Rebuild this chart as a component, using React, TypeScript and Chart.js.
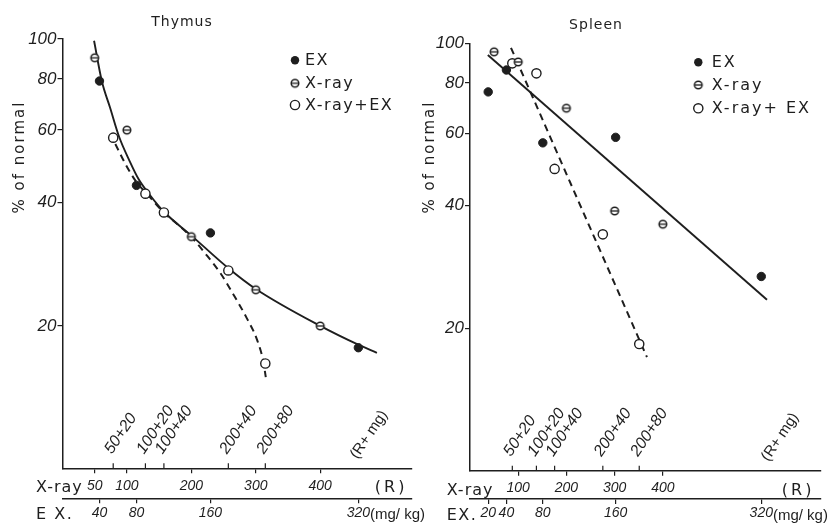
import React, { useEffect, useRef } from 'react';
import { Chart, registerables } from 'chart.js';

Chart.register(...registerables);

const INK = '#1e1e1e';
const NUMF = "'Liberation Sans', 'DejaVu Sans', sans-serif";
const SANS = "'DejaVu Sans', 'Liberation Sans', sans-serif";

// ---------- shared ----------
const pctTicks = [20, 40, 60, 80, 100];
const comboR = [50, 100, 100, 200, 200];
const comboMg = [20, 20, 40, 40, 80];

// ---------- Thymus ----------
const thymusXrayTicks = [50, 100, 200, 300, 400];
const thymusExTicks = [40, 80, 160, 320];
const thymusExDose = [40, 80, 160, 320];
const thymusExPct = [79, 44, 33.7, 17.7];
const thymusXrayDose = [50, 100, 200, 300, 400];
const thymusXrayPct = [90, 60, 33, 24.5, 20];
const thymusComboPct = [57.5, 42, 37.8, 27.3, 16.2];
const thymusSolidX = [49, 61, 74, 88, 104, 118, 135, 157, 201, 258, 300, 400, 459, 488];
const thymusSolidPct = [99, 79, 67.9, 57.7, 50.5, 45.6, 41.8, 38.0, 33.1, 27.6, 24.6, 20, 18, 17.2];
const thymusDashX = [82, 98, 114, 135, 157, 180, 201, 221, 245, 265, 286, 302, 312, 315.5];
const thymusDashPct = [55.5, 49.5, 45.0, 41.3, 37.8, 35.2, 32.8, 30.1, 26.9, 23.9, 20.9, 18.5, 16.3, 15.0];

// ---------- Spleen ----------
const spleenXrayTicks = [100, 200, 300, 400];
const spleenExTicks = [20, 40, 80, 160, 320];
const spleenExDose = [20, 40, 80, 160, 320];
const spleenExPct = [76, 86, 57, 58.8, 26.8];
const spleenXrayDose = [50, 100, 200, 300, 400];
const spleenXrayPct = [95.3, 90, 69.3, 38.8, 36];
const spleenComboPct = [89.3, 84.4, 49.2, 34, 18.3];
const spleenSolidX = [37, 616];
const spleenSolidPct = [93.6, 23.5];
const spleenDashX = [85, 367];
const spleenDashPct = [97.5, 17];

type Panel = {
  title: string;
  exName: string;
  comboLabel: string;
  xrayTicks: number[];
  exTicks: number[];
  exDose: number[];
  exPct: number[];
  xrayDose: number[];
  xrayPct: number[];
  comboPct: number[];
  solidX: number[];
  solidPct: number[];
  dashX: number[];
  dashPct: number[];
  curved: boolean;
  mgToR: number;
  xMax: number;
  yMin: number;
  areaLeft: number;
  areaTop: number;
  areaRight: number;
  xAxisH: number;
  exAxisH: number;
  titleX: number;
  titleY: number;
  yTitleX: number;
  yTitleY: number;
  legendX: number;
  legendTextX: number;
  legendY: number[];
  legendSpacing: number;
  axisNameX: number;
  rLabelFrac: number;
  rmgFrac: number;
};

const thymusPanel: Panel = {
  title: 'Thymus',
  exName: 'E X.',
  comboLabel: 'X-ray+EX',
  xrayTicks: thymusXrayTicks,
  exTicks: thymusExTicks,
  exDose: thymusExDose,
  exPct: thymusExPct,
  xrayDose: thymusXrayDose,
  xrayPct: thymusXrayPct,
  comboPct: thymusComboPct,
  solidX: thymusSolidX,
  solidPct: thymusSolidPct,
  dashX: thymusDashX,
  dashPct: thymusDashPct,
  curved: true,
  mgToR: 1.435,
  xMax: 542,
  yMin: 9.0,
  areaLeft: 62.5,
  areaTop: 39,
  areaRight: 411.7,
  xAxisH: 30,
  exAxisH: 29.7,
  titleX: 182,
  titleY: 22,
  yTitleX: 20,
  yTitleY: 157,
  legendX: 295,
  legendTextX: 305,
  legendY: [60.3, 83.3, 105],
  legendSpacing: 1.5,
  axisNameX: 36,
  rLabelFrac: 0.941,
  rmgFrac: 0.843,
};

const spleenPanel: Panel = {
  title: 'Spleen',
  exName: 'EX.',
  comboLabel: 'X-ray+ EX',
  xrayTicks: spleenXrayTicks,
  exTicks: spleenExTicks,
  exDose: spleenExDose,
  exPct: spleenExPct,
  xrayDose: spleenXrayDose,
  xrayPct: spleenXrayPct,
  comboPct: spleenComboPct,
  solidX: spleenSolidX,
  solidPct: spleenSolidPct,
  dashX: spleenDashX,
  dashPct: spleenDashPct,
  curved: false,
  mgToR: 1.888,
  xMax: 727,
  yMin: 8.95,
  areaLeft: 55,
  areaTop: 43.3,
  areaRight: 405.5,
  xAxisH: 28.3,
  exAxisH: 29,
  titleX: 181,
  titleY: 25,
  yTitleX: 15,
  yTitleY: 157,
  legendX: 283.3,
  legendTextX: 296.7,
  legendY: [62.3, 85, 108.3],
  legendSpacing: 2,
  axisNameX: 31.7,
  rLabelFrac: 0.936,
  rmgFrac: 0.85,
};

function makeThetaMarker(r: number): HTMLCanvasElement {
  const size = Math.ceil(r * 2 + 4);
  const c = document.createElement('canvas');
  c.width = size;
  c.height = size;
  const g = c.getContext('2d')!;
  const m = size / 2;
  g.fillStyle = '#fff';
  g.beginPath();
  g.arc(m, m, r, 0, Math.PI * 2);
  g.fill();
  g.strokeStyle = INK;
  g.lineWidth = 1.5;
  g.stroke();
  g.beginPath();
  g.moveTo(m - r, m);
  g.lineTo(m + r, m);
  g.lineWidth = 1.3;
  g.stroke();
  return c;
}

function makeExtras(p: Panel) {
  return {
    id: 'extras',
    afterDraw(chart: any) {
      const ctx: CanvasRenderingContext2D = chart.ctx;
      const { left, right, bottom } = chart.chartArea;
      const xs = chart.scales.x;
      const es = chart.scales.ex;
      ctx.save();
      ctx.fillStyle = INK;
      ctx.strokeStyle = INK;

      // title
      (ctx as any).letterSpacing = '1px';
      ctx.font = `14px ${SANS}`;
      ctx.textAlign = 'center';
      ctx.textBaseline = 'middle';
      ctx.fillText(p.title, p.titleX, p.titleY);

      // y title
      ctx.save();
      (ctx as any).letterSpacing = '2px';
      ctx.font = `15px ${SANS}`;
      ctx.translate(p.yTitleX, p.yTitleY);
      ctx.rotate(-Math.PI / 2);
      ctx.fillText('% of normal', 0, 0);
      ctx.restore();

      // combined (R + mg) ticks with slanted labels
      (ctx as any).letterSpacing = '0px';
      ctx.lineWidth = 1.2;
      ctx.font = `italic 16px ${NUMF}`;
      const ang = (-56 * Math.PI) / 180;
      comboR.forEach((r, i) => {
        const px = xs.getPixelForValue(r + comboMg[i] * p.mgToR);
        ctx.beginPath();
        ctx.moveTo(px, bottom);
        ctx.lineTo(px, bottom - 5);
        ctx.stroke();
        ctx.save();
        ctx.translate(px - 5, bottom - 16);
        ctx.rotate(ang);
        ctx.textAlign = 'left';
        ctx.textBaseline = 'middle';
        ctx.fillText(`${r}+${comboMg[i]}`, 0, 0);
        ctx.restore();
      });
      ctx.save();
      ctx.font = `15px ${NUMF}`;
      ctx.translate(left + p.rmgFrac * (right - left) - 3, bottom - 11);
      ctx.rotate(ang);
      ctx.textAlign = 'left';
      ctx.textBaseline = 'middle';
      ctx.fillText('(R+ mg)', 0, 0);
      ctx.restore();

      // axis names
      ctx.textAlign = 'left';
      ctx.textBaseline = 'middle';
      ctx.save();
      (ctx as any).letterSpacing = '1px';
      ctx.font = `16px ${SANS}`;
      ctx.fillText('X-ray', p.axisNameX, xs.top + 20);
      (ctx as any).letterSpacing = '1.5px';
      ctx.fillText(p.exName, p.axisNameX, es.top + 17);
      ctx.restore();

      // unit labels
      ctx.save();
      (ctx as any).letterSpacing = '3px';
      ctx.font = `16px ${SANS}`;
      ctx.textAlign = 'center';
      ctx.fillText('(R)', left + p.rLabelFrac * (right - left), xs.top + 20);
      ctx.restore();
      ctx.save();
      ctx.font = `italic 14px ${NUMF}`;
      const last = p.exTicks[p.exTicks.length - 1];
      const lastPx = es.getPixelForValue(last);
      const w = ctx.measureText(String(last)).width;
      ctx.font = `15px ${NUMF}`;
      ctx.textAlign = 'left';
      ctx.fillText('(mg/ kg)', lastPx + w / 2, es.top + 17);
      ctx.restore();

      // legend
      const theta = makeThetaMarker(3.8);
      const names = [chart.data.datasets[0].label, chart.data.datasets[1].label, chart.data.datasets[2].label];
      names.forEach((name: string, i: number) => {
        const y = p.legendY[i];
        ctx.lineWidth = 1.4;
        if (i === 0) {
          ctx.beginPath();
          ctx.arc(p.legendX, y, 4.2, 0, Math.PI * 2);
          ctx.fill();
        } else if (i === 1) {
          ctx.drawImage(theta, p.legendX - theta.width / 2, y - theta.height / 2);
        } else {
          ctx.beginPath();
          ctx.arc(p.legendX, y, 4.6, 0, Math.PI * 2);
          ctx.stroke();
        }
        ctx.save();
        (ctx as any).letterSpacing = `${p.legendSpacing}px`;
        ctx.font = `16px ${SANS}`;
        ctx.textAlign = 'left';
        ctx.textBaseline = 'middle';
        ctx.fillText(name, p.legendTextX, y + 1);
        ctx.restore();
      });
      ctx.restore();
    },
  };
}

function buildChart(canvas: HTMLCanvasElement, p: Panel) {
  const theta = makeThetaMarker(3.8);
  const comboPos = comboR.map((r, i) => r + comboMg[i] * p.mgToR);
  const tickFontX = { family: NUMF, size: 14, style: 'italic' as const };
  const W = canvas.width;
  return new Chart(canvas, {
    type: 'scatter',
    data: {
      datasets: [
        {
          label: 'EX',
          data: p.exDose.map((d, i) => ({ x: d * p.mgToR, y: p.exPct[i] })),
          pointStyle: 'circle',
          pointRadius: 4.2,
          backgroundColor: INK,
          borderColor: INK,
          borderWidth: 1,
          showLine: false,
          order: 0,
        },
        {
          label: 'X-ray',
          data: p.xrayDose.map((d, i) => ({ x: d, y: p.xrayPct[i] })),
          pointStyle: theta,
          pointRadius: 4,
          showLine: false,
          order: 0,
        },
        {
          label: p.comboLabel,
          data: comboPos.map((x, i) => ({ x, y: p.comboPct[i] })),
          pointStyle: 'circle',
          pointRadius: 4.6,
          backgroundColor: '#fff',
          borderColor: INK,
          borderWidth: 1.4,
          showLine: false,
          order: 0,
        },
        {
          label: 'fit',
          data: p.solidX.map((x, i) => ({ x, y: p.solidPct[i] })),
          showLine: true,
          pointRadius: 0,
          borderColor: INK,
          borderWidth: 1.9,
          tension: p.curved ? 0.4 : 0,
          cubicInterpolationMode: p.curved ? 'monotone' : 'default',
          fill: false,
          order: 1,
        },
        {
          label: 'fit combined',
          data: p.dashX.map((x, i) => ({ x, y: p.dashPct[i] })),
          showLine: true,
          pointRadius: 0,
          borderColor: INK,
          borderWidth: 2,
          borderDash: [7, 5],
          tension: p.curved ? 0.4 : 0,
          cubicInterpolationMode: p.curved ? 'monotone' : 'default',
          fill: false,
          order: 1,
        },
      ] as any,
    },
    options: {
      responsive: false,
      animation: false,
      events: [],
      layout: { padding: { left: 0, top: p.areaTop, right: W - p.areaRight, bottom: 0 } },
      plugins: { legend: { display: false }, tooltip: { enabled: false }, title: { display: false } },
      scales: {
        x: {
          type: 'linear',
          position: 'bottom',
          weight: 0,
          min: 0,
          max: p.xMax,
          afterBuildTicks: (s: any) => {
            s.ticks = p.xrayTicks.map((v) => ({ value: v }));
          },
          afterFit: (s: any) => {
            s.height = p.xAxisH;
          },
          grid: { drawOnChartArea: false, drawTicks: true, tickLength: 5, color: INK, lineWidth: 1.2 },
          border: { display: true, color: INK, width: 1.5 },
          ticks: {
            autoSkip: false,
            maxRotation: 0,
            minRotation: 0,
            padding: 4,
            color: INK,
            font: tickFontX,
            callback: (v: any) => String(v),
          },
        },
        ex: {
          type: 'linear',
          position: 'bottom',
          weight: 1,
          min: 0,
          max: p.xMax / p.mgToR,
          afterBuildTicks: (s: any) => {
            s.ticks = p.exTicks.map((v) => ({ value: v }));
          },
          afterFit: (s: any) => {
            s.height = p.exAxisH;
          },
          grid: { drawOnChartArea: false, drawTicks: true, tickLength: 5, color: INK, lineWidth: 1.2 },
          border: { display: true, color: INK, width: 1.5 },
          ticks: {
            autoSkip: false,
            maxRotation: 0,
            minRotation: 0,
            padding: 1,
            color: INK,
            font: tickFontX,
            callback: (v: any) => String(v),
          },
        },
        y: {
          type: 'logarithmic',
          position: 'left',
          min: p.yMin,
          max: 100,
          afterBuildTicks: (s: any) => {
            s.ticks = pctTicks.map((v) => ({ value: v }));
          },
          afterFit: (s: any) => {
            s.width = p.areaLeft;
          },
          grid: { drawOnChartArea: false, drawTicks: true, tickLength: 5, color: INK, lineWidth: 1.2 },
          border: { display: true, color: INK, width: 1.5 },
          ticks: {
            autoSkip: false,
            padding: 1,
            color: INK,
            font: { family: NUMF, size: 17, style: 'italic' },
            callback: (v: any) => String(v),
          },
        },
      } as any,
    },
    plugins: [makeExtras(p)],
  });
}

export default function App() {
  const leftRef = useRef<HTMLCanvasElement>(null);
  const rightRef = useRef<HTMLCanvasElement>(null);
  useEffect(() => {
    const a = buildChart(leftRef.current!, thymusPanel);
    const b = buildChart(rightRef.current!, spleenPanel);
    return () => {
      a.destroy();
      b.destroy();
    };
  }, []);
  return (
    <div style={{ position: 'absolute', left: 0, top: 0, width: 830, height: 528, background: '#fff' }}>
      <canvas ref={leftRef} width={432} height={528} style={{ position: 'absolute', left: 0, top: 0 }} />
      <canvas ref={rightRef} width={415} height={528} style={{ position: 'absolute', left: 415, top: 0 }} />
    </div>
  );
}
